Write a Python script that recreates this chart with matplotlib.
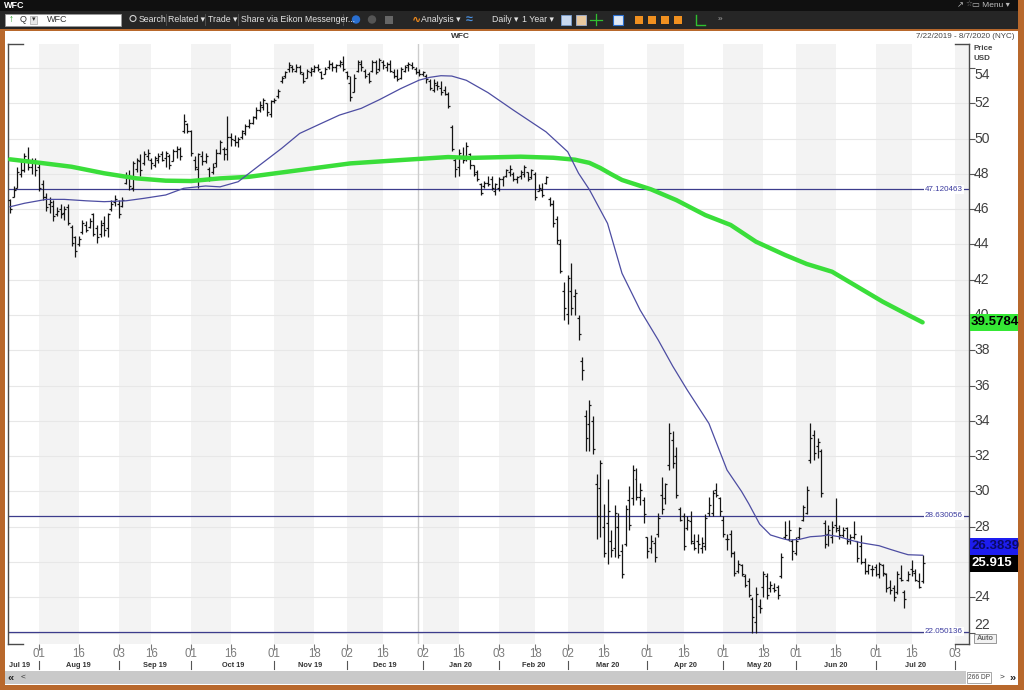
import numpy as np
import matplotlib
matplotlib.use('Agg')
import matplotlib.pyplot as plt
import matplotlib.transforms as mtransforms
from matplotlib.patches import Rectangle, Circle
from matplotlib.collections import LineCollection

plt.rcParams['font.family'] = ['Liberation Sans', 'DejaVu Sans']

# ---------------- data: WFC daily bars ----------------
first_day = '2019-07-22'
last_day = '2020-08-08'          # view runs 7/22/2019 - 8/7/2020
nyse_holidays = ['2019-09-02', '2019-11-28', '2019-12-25', '2020-01-01', '2020-01-20',
                 '2020-02-17', '2020-04-10', '2020-05-25', '2020-07-03']

opens = [
    46.5, 46.7, 47.2, 48.0, 48.2, 48.8, 48.4, 48.7, 48.4, 47.4,
    46.7, 46.3, 46.2, 45.7, 46.0, 45.8, 46.1, 45.0, 44.4, 44.0,
    44.7, 45.1, 45.0, 45.7, 44.9, 44.6, 45.2, 44.9, 46.0, 46.4,
    46.3, 46.2, 47.5, 47.8, 47.2, 48.3, 48.7, 48.6, 49.0, 48.8,
    48.5, 48.8, 49.1, 48.9, 49.0, 48.7, 49.3, 49.4, 50.4, 50.8,
    50.4, 48.8, 48.3, 49.0, 48.7, 48.3, 48.1, 48.6, 49.2, 49.4,
    49.4, 50.1, 49.9, 49.8, 50.1, 50.3, 50.7, 50.9, 51.2, 51.6,
    51.8, 52.0, 51.4, 52.1, 52.4, 53.25, 53.55, 53.95, 54.05, 53.85,
    54.05, 53.65, 53.45, 53.75, 53.85, 54.05, 53.75, 53.65, 54.05, 54.25,
    54.05, 54.15, 54.25, 53.75, 53.15, 52.65, 53.85, 54.25, 53.85, 53.65,
    53.85, 54.35, 53.95, 54.35, 54.05, 54.25, 53.75, 53.55, 53.45, 53.85,
    54.15, 54.15, 53.95, 53.75, 53.65, 53.55, 53.25, 52.75, 53.05, 52.85,
    52.75, 52.55, 50.68, 48.8, 48.4, 49.0, 49.0, 49.1, 48.5, 48.1,
    47.4, 47.3, 47.5, 47.7, 47.0, 47.2, 47.7, 47.9, 48.1, 48.0,
    47.7, 47.9, 48.0, 48.1, 47.8, 48.0, 47.0, 47.1, 47.5, 46.6,
    46.3, 45.43, 44.03, 41.37, 40.07, 41.37, 41.07, 39.8, 37.4,
    34.3, 33.8, 34.0, 30.4, 30.2, 28.0, 28.2, 27.2, 26.8, 28.0, 26.6,
    27.0, 29.5, 29.6, 30.7, 29.7, 29.5, 27.4, 26.8, 27.1, 27.6,
    29.8, 29.6, 31.5, 32.9, 32.0, 29.0, 28.6, 27.9, 28.3, 27.1,
    27.2, 26.8, 26.9, 28.8, 28.8, 30.1, 29.6, 28.4, 27.3, 27.6,
    26.5, 25.5, 25.8, 25.2, 24.9, 23.9, 22.6, 23.5, 24.6, 25.2,
    24.5, 24.5, 24.6, 25.2, 27.4, 27.3, 27.2, 26.5, 27.4, 28.4,
    28.8, 31.8, 33.2, 32.6, 32.3, 28.2, 27.6, 27.4, 28.1, 27.8,
    27.5, 27.9, 27.3, 27.4, 27.2, 26.9, 26.0, 25.5, 25.6, 25.7,
    25.3, 25.8, 25.3, 24.6, 24.5, 24.3, 25.1, 24.3, 25.0, 25.6,
    25.4, 24.9, 24.9,
]
highs = [
    46.6, 47.3, 48.4, 48.7, 49.2, 49.5, 48.9, 48.9, 48.7, 47.65,
    46.9, 46.7, 46.5, 46.1, 46.3, 46.2, 46.3, 45.1, 44.5, 44.5,
    45.4, 45.3, 45.5, 45.8, 45.1, 45.4, 45.6, 45.8, 46.5, 46.8,
    46.5, 46.7, 48.1, 48.2, 48.7, 48.9, 49.1, 49.3, 49.4, 48.9,
    49.0, 49.2, 49.3, 49.3, 49.1, 49.4, 49.6, 49.5, 51.4, 50.9,
    50.5, 49.0, 49.2, 49.3, 49.2, 48.4, 48.6, 49.4, 49.9, 49.5,
    51.3, 50.3, 50.2, 50.1, 50.5, 50.8, 51.1, 51.3, 51.8, 52.1,
    52.3, 52.0, 52.2, 52.3, 52.8, 53.55, 53.85, 54.35, 54.15, 54.25,
    54.15, 53.75, 53.95, 54.05, 54.15, 54.25, 53.85, 54.05, 54.45, 54.35,
    54.25, 54.45, 54.65, 53.85, 53.55, 53.65, 54.45, 54.45, 53.95, 53.75,
    54.45, 54.45, 54.55, 54.45, 54.35, 54.45, 53.95, 53.95, 54.05, 54.15,
    54.35, 54.35, 54.05, 53.95, 53.85, 53.65, 53.35, 53.35, 53.25, 53.25,
    52.95, 52.65, 50.78, 49.0, 49.4, 49.5, 49.8, 49.2, 48.5, 48.2,
    47.5, 47.6, 47.9, 47.9, 47.5, 47.8, 47.9, 48.3, 48.5, 48.1,
    47.9, 48.2, 48.5, 48.1, 48.3, 48.1, 47.4, 47.5, 47.9, 46.7,
    46.5, 45.63, 44.33, 41.87, 42.27, 42.97, 41.47, 40.0, 37.6,
    34.6, 35.2, 34.3, 31.0, 31.8, 29.3, 30.7, 27.8, 29.2, 28.8, 27.0,
    29.2, 30.3, 31.5, 31.3, 30.5, 29.7, 27.4, 27.5, 27.4, 28.8,
    30.8, 30.5, 33.9, 33.4, 32.5, 29.1, 28.8, 28.6, 28.9, 27.6,
    27.6, 27.4, 28.7, 29.7, 30.1, 30.5, 29.7, 28.6, 27.6, 27.8,
    26.6, 26.1, 25.9, 25.3, 25.1, 24.0, 24.6, 23.9, 25.5, 25.4,
    24.9, 24.8, 24.7, 26.5, 28.3, 28.4, 27.3, 27.4, 28.0, 29.2,
    30.3, 33.9, 33.5, 33.0, 32.4, 28.4, 28.1, 28.3, 29.6, 28.1,
    28.0, 28.0, 27.6, 28.3, 27.2, 27.5, 26.2, 25.9, 25.8, 25.9,
    26.0, 25.9, 25.4, 25.0, 24.7, 25.5, 25.8, 24.4, 25.5, 26.1,
    25.6, 25.4, 26.4,
]
lows = [
    45.8, 46.7, 47.2, 47.8, 48.1, 48.2, 48.0, 47.9, 47.0, 46.5,
    45.9, 45.8, 45.3, 45.6, 45.5, 45.4, 45.1, 43.9, 43.3, 43.9,
    44.6, 44.7, 44.9, 44.5, 44.1, 44.4, 44.5, 44.4, 45.9, 46.2,
    45.5, 46.1, 47.4, 47.1, 47.0, 48.1, 47.9, 48.5, 48.8, 48.3,
    48.4, 48.6, 48.7, 48.4, 48.3, 48.7, 48.9, 48.8, 50.3, 50.3,
    49.0, 48.2, 47.2, 48.5, 48.6, 47.6, 48.0, 48.4, 49.1, 48.8,
    48.8, 49.6, 49.6, 49.5, 50.0, 50.2, 50.6, 50.8, 51.1, 51.5,
    51.6, 51.3, 51.2, 52.0, 52.3, 53.15, 53.45, 53.75, 53.75, 53.75,
    53.65, 53.15, 53.45, 53.55, 53.75, 53.85, 53.35, 53.65, 53.95, 53.85,
    53.75, 54.05, 53.85, 53.35, 52.15, 52.65, 53.75, 53.85, 53.45, 53.15,
    53.75, 53.65, 53.85, 53.95, 53.85, 53.75, 53.45, 53.25, 53.35, 53.75,
    53.85, 53.95, 53.65, 53.55, 53.55, 53.15, 52.75, 52.65, 52.75, 52.45,
    52.45, 51.75, 49.28, 47.8, 47.9, 48.6, 48.7, 48.3, 47.9, 47.6,
    46.8, 47.2, 47.3, 47.1, 46.8, 47.0, 47.3, 47.8, 47.9, 47.6,
    47.5, 47.7, 47.8, 47.6, 47.7, 46.5, 47.0, 46.7, 47.4, 46.2,
    45.0, 44.03, 42.37, 39.7, 39.5, 39.97, 39.97, 38.6, 36.3,
    32.3, 32.3, 32.1, 27.3, 27.4, 26.3, 25.9, 26.3, 26.3, 26.2, 25.1,
    26.9, 27.8, 29.2, 29.5, 29.2, 28.2, 26.2, 26.5, 26.0, 27.4,
    28.7, 29.3, 31.2, 31.3, 29.6, 28.3, 26.7, 27.8, 27.0, 26.7,
    26.5, 26.5, 26.7, 28.6, 28.6, 29.7, 28.6, 27.4, 26.7, 26.3,
    25.2, 25.4, 25.2, 24.6, 24.0, 22.0, 22.0, 23.1, 24.0, 23.9,
    24.3, 24.3, 23.9, 25.1, 27.3, 27.2, 26.1, 26.4, 27.3, 28.3,
    28.7, 31.6, 31.8, 31.9, 29.7, 26.8, 26.9, 27.1, 27.7, 27.3,
    27.4, 27.0, 27.0, 27.3, 26.0, 25.9, 25.3, 25.3, 25.2, 25.2,
    25.1, 25.2, 24.3, 24.2, 23.8, 24.2, 24.9, 23.4, 24.9, 25.2,
    24.9, 24.5, 24.8,
]
closes = [
    46.0, 47.1, 48.1, 48.2, 49.0, 48.4, 48.7, 48.2, 47.2, 46.7,
    46.1, 46.4, 45.6, 45.9, 45.7, 46.0, 45.2, 44.1, 43.6, 44.3,
    45.2, 44.8, 45.3, 44.6, 44.4, 45.1, 44.8, 45.7, 46.3, 46.6,
    45.7, 46.5, 47.9, 47.3, 48.6, 48.8, 48.2, 49.1, 49.2, 48.6,
    48.9, 49.0, 48.8, 49.2, 48.5, 49.3, 49.4, 49.0, 51.0, 50.4,
    49.2, 48.4, 49.1, 48.7, 49.0, 47.8, 48.4, 49.2, 49.8, 49.1,
    50.1, 50.0, 49.8, 50.0, 50.4, 50.7, 50.9, 51.2, 51.6, 51.9,
    52.2, 51.5, 52.1, 52.2, 52.7, 53.45, 53.75, 54.15, 53.95, 54.05,
    53.75, 53.25, 53.85, 53.95, 54.05, 53.95, 53.45, 53.95, 54.25, 54.05,
    54.15, 54.35, 53.95, 53.55, 52.35, 53.45, 54.35, 54.05, 53.55, 53.25,
    54.35, 53.75, 54.45, 54.15, 54.25, 53.85, 53.55, 53.35, 53.95, 54.05,
    54.25, 54.05, 53.75, 53.65, 53.75, 53.35, 52.85, 53.15, 52.95, 52.65,
    52.55, 51.85, 49.38, 48.3, 49.2, 48.8, 49.6, 48.5, 48.0, 47.7,
    46.9, 47.5, 47.4, 47.2, 47.4, 47.7, 47.8, 48.2, 48.3, 47.7,
    47.8, 48.1, 48.4, 47.7, 48.2, 46.7, 47.2, 46.8, 47.8, 46.3,
    45.2, 44.23, 42.47, 40.37, 42.07, 40.37, 41.27, 38.9, 36.9,
    33.0, 34.9, 32.4, 28.6, 31.6, 26.5, 28.9, 26.7, 28.8, 26.4, 25.3,
    29.0, 28.1, 31.2, 29.7, 30.1, 28.7, 26.6, 27.2, 26.3, 28.5,
    29.0, 30.4, 33.3, 31.6, 29.8, 28.4, 26.9, 28.4, 27.2, 26.8,
    27.0, 27.1, 28.5, 29.2, 29.9, 29.8, 28.9, 27.6, 27.3, 26.5,
    25.4, 25.9, 25.3, 24.7, 24.1, 22.9, 24.2, 23.4, 25.3, 24.1,
    24.7, 24.4, 24.1, 26.3, 27.5, 27.8, 26.6, 27.2, 27.9, 29.1,
    30.1, 33.0, 32.2, 32.8, 29.9, 27.0, 27.8, 28.0, 27.9, 27.5,
    27.8, 27.2, 27.4, 27.6, 26.2, 26.0, 25.5, 25.8, 25.6, 25.3,
    25.9, 25.4, 24.5, 24.4, 24.0, 25.3, 25.0, 23.9, 25.3, 25.5,
    25.0, 24.6, 25.915,
]

# moving averages, sampled along the drawn curves (bar number, value)
ma50_bar = [0, 4, 10, 15, 21, 26, 32, 37, 43, 48, 54, 58, 63, 69, 75, 80, 86, 91, 97, 102,
            108, 113, 116, 119, 122, 126, 132, 139, 148, 154, 157, 160, 165, 169, 174, 179,
            183, 187, 193, 198, 202, 204, 207, 210, 213, 215, 218, 221, 224, 226, 229, 232,
            235, 237, 240, 243, 246, 248, 252]
ma50_val = [46.13, 46.33, 46.55, 46.55, 46.47, 46.42, 46.47, 46.61, 46.8, 47.18, 47.31, 47.26,
            47.55, 48.5, 49.44, 50.29, 50.86, 51.33, 51.71, 52.2, 52.84, 53.31, 53.47, 53.56,
            53.54, 53.3, 52.6, 51.61, 50.38, 49.25, 48.03, 47.1, 45.19, 42.36, 40.28, 38.58,
            37.1, 35.75, 33.85, 31.21, 30.0, 29.3, 28.15, 27.53, 27.34, 27.24, 27.28, 27.43,
            27.47, 27.53, 27.43, 27.24, 27.09, 27.02, 26.92, 26.72, 26.53, 26.41, 26.38]
ma200_bar = [0, 8, 17, 26, 35, 43, 50, 58, 66, 80, 94, 108, 121, 127, 141, 150, 156, 160,
             163, 166, 169, 177, 184, 192, 199, 206, 214, 220, 227, 234, 241, 248, 252]
ma200_val = [48.82, 48.63, 48.4, 48.03, 47.74, 47.61, 47.59, 47.74, 47.83, 48.21, 48.59, 48.78,
             48.95, 48.9, 48.97, 48.91, 48.8, 48.62, 48.33, 47.98, 47.65, 47.12, 46.51, 45.66,
             45.1, 44.15, 43.4, 42.89, 42.45, 41.6, 40.75, 40.0, 39.58]

level_lines = [47.120463, 28.630056, 22.050136]
price_ticks = list(range(22, 55, 2))
last_close = 25.915
ma50_last = 26.3839
ma200_last = 39.5784

assert len(opens) == len(highs) == len(lows) == len(closes)

# ---------------- trading calendar ----------------
days = np.arange(first_day, last_day, dtype='datetime64[D]')
tdays = days[np.is_busday(days, holidays=nyse_holidays)]


def bar_of(date):
    d = np.busday_offset(date, 0, roll='forward', holidays=nyse_holidays)
    return int(np.searchsorted(tdays, d))


x_lo, x_hi = -0.55, 264.9
y_lo, y_hi = 21.35, 55.34

months = np.arange('2019-08', '2020-09', dtype='datetime64[M]')
tick_bars, tick_text, month_start, bands = [], [], [], []
for m in months:
    d1 = m.astype('datetime64[D]')
    b1, b16 = bar_of(d1), bar_of(d1 + 15)
    bands.append((b1, min(b16, x_hi + 1)))
    month_start.append(b1)
    for b in (b1, b16):
        if b <= x_hi:
            tick_bars.append(b)
            tick_text.append('%02d' % tdays[b].astype(object).day)

# ---------------- figure / window chrome ----------------
W, H = 1024, 690
L, R, T, B = 8, 969.3, 44.3, 644.0

fig = plt.figure(figsize=(W / 100, H / 100), dpi=100)
bg = fig.add_axes([0, 0, 1, 1])
bg.set_xlim(0, W)
bg.set_ylim(H, 0)
bg.axis('off')

border = '#b8682c'
bg.add_patch(Rectangle((0, 0), W, H, fc='white', ec='none'))
bg.add_patch(Rectangle((0, 0), W, 11, fc='#101010', ec='none'))
bg.add_patch(Rectangle((0, 11), W, 17.5, fc='#262626', ec='none'))
bg.add_patch(Rectangle((0, 28.5), W, 2, fc=border, ec='none'))
bg.add_patch(Rectangle((0, 28.5), 4.5, H, fc=border, ec='none'))
bg.add_patch(Rectangle((W - 6, 0), 6, H, fc=border, ec='none'))
bg.add_patch(Rectangle((0, H - 5), W, 5, fc=border, ec='none'))

bg.text(4, 5.5, 'WFC', color='white', fontsize=6.5, fontweight='bold', va='center')
bg.text(957, 5.5, '\u2197', color='#bbbbbb', fontsize=6, va='center')
bg.text(965, 5.5, '\u2606', color='#777777', fontsize=5.5, va='center')
bg.text(972, 5.5, '\u25ad Menu \u25be', color='#bbbbbb', fontsize=6, va='center')

# toolbar
bg.add_patch(Rectangle((5, 13.5), 116, 12, fc='white', ec='#999999', lw=0.6))
bg.text(9, 19.5, '\u2191', color='#1a9a1a', fontsize=7, fontweight='bold', va='center')
bg.text(20, 19.5, 'Q', color='#333333', fontsize=6.5, va='center')
bg.add_patch(Rectangle((30, 15.5), 7, 8, fc='#e8e8e8', ec='#aaaaaa', lw=0.5))
bg.text(33.5, 19.5, '\u25be', color='#333333', fontsize=5, va='center', ha='center')
bg.text(47, 19.5, 'WFC', color='#333333', fontsize=6.5, va='center')

tool_items = [(139, 'Search'), (168, 'Related \u25be'), (208, 'Trade \u25be'),
              (241, 'Share via Eikon Messenger...'), (421, 'Analysis \u25be'),
              (492, 'Daily \u25be'), (522, '1 Year \u25be')]
for tx, label in tool_items:
    bg.text(tx, 19.5, label, color='#e4e4e4', fontsize=6.3, va='center')
for sx in (165.5, 205, 238, 343):
    bg.plot([sx, sx], [14, 25], color='#555555', lw=0.6)
bg.add_patch(Circle((133, 18.5), 3, fc='none', ec='#d0d0d0', lw=0.8))
bg.add_patch(Circle((356, 19.5), 4.2, fc='#2a6fd0', ec='none'))
bg.add_patch(Circle((372, 19.5), 4.2, fc='#555555', ec='none'))
bg.add_patch(Rectangle((385, 15.5), 8, 8, fc='#666666', ec='none'))
bg.text(412, 19.5, '\u223f', color='#f08a1c', fontsize=8, va='center', fontweight='bold')
bg.text(466, 19.5, '\u2248', color='#4a90e0', fontsize=9, va='center', fontweight='bold')
bg.add_patch(Rectangle((561, 14.5), 10, 10, fc='#c9d9ef', ec='#7a9fd0', lw=0.6))
bg.add_patch(Rectangle((576, 14.5), 10, 10, fc='#e9c9a0', ec='#9fb0d0', lw=0.6))
bg.plot([596, 596], [14, 25], color='#30c030', lw=0.9)
bg.plot([590, 602], [19.5, 19.5], color='#30c030', lw=0.9)
bg.add_patch(Rectangle((613, 14.5), 10, 10, fc='#dfe8f5', ec='#2a6fd0', lw=0.8))
for ix in (639, 652, 665, 678):
    bg.add_patch(Rectangle((ix - 4, 15.5), 8, 8, fc='#f09020', ec='none'))
bg.plot([696, 696, 705], [14.5, 24.5, 24.5], color='#30c030', lw=1.0)
bg.text(718, 19.5, '\u00bb', color='#aaaaaa', fontsize=6, va='center')

bg.text(460, 37, 'WFC', color='#333333', fontsize=6, fontweight='bold', ha='center', va='center')
bg.text(1015, 37, '7/22/2019 - 8/7/2020 (NYC)', color='#444444', fontsize=5.8,
        ha='right', va='center')

# right panel header + Auto button
bg.text(974, 49, 'Price', color='#444444', fontsize=5.8, fontweight='bold', va='center')
bg.text(974, 59, 'USD', color='#444444', fontsize=5.8, fontweight='bold', va='center')
bg.add_patch(Rectangle((974, 633.5), 22, 9.5, fc='#f2f2f2', ec='#888888', lw=0.6))
bg.text(985, 638.3, 'Auto', color='#666666', fontsize=5.3, fontweight='bold',
        ha='center', va='center')

# scrollbar
bg.add_patch(Rectangle((4.5, 670.5), 961, 13.5, fc='#c9c9c9', ec='none'))
bg.text(8, 677.5, '\u00ab', color='#222222', fontsize=8, fontweight='bold', va='center')
bg.text(21, 677.5, '<', color='#333333', fontsize=6, va='center')
bg.add_patch(Rectangle((967, 671.5), 24, 11.5, fc='white', ec='#999999', lw=0.6))
bg.text(979, 677.5, '266 DP', color='#444444', fontsize=4.8, ha='center', va='center')
bg.text(1000, 677.5, '>', color='#333333', fontsize=6, va='center')
bg.text(1009, 677.5, '\u00bb', color='#222222', fontsize=8, fontweight='bold', va='center')

# ---------------- price chart ----------------
ax = fig.add_axes([L / W, 1 - B / H, (R - L) / W, (B - T) / H])
ax.set_facecolor('white')
ax.set_xlim(x_lo, x_hi)
ax.set_ylim(y_lo, y_hi)
ax.set_zorder(2)
xa_yd = mtransforms.blended_transform_factory(ax.transAxes, ax.transData)
xd_ya = mtransforms.blended_transform_factory(ax.transData, ax.transAxes)


def ax_x(px):
    return (px - L) / (R - L)


def ax_y(py):
    return (B - py) / (B - T)


for s in ('top', 'bottom'):
    ax.spines[s].set_visible(False)
for s in ('left', 'right'):
    ax.spines[s].set_color('#4a4a4a')
    ax.spines[s].set_linewidth(1.0)
for xs in ((0, ax_x(L + 15)), (ax_x(R - 14), 1)):
    for ys in (0, 1):
        ax.plot(xs, (ys, ys), transform=ax.transAxes, color='#4a4a4a', lw=1.0, clip_on=False)

# half-month shading and faint price grid
for b1, b16 in bands:
    ax.axvspan(b1, b16, color='#f3f3f3', lw=0, zorder=0)
for p in price_ticks:
    ax.axhline(p, color='#e7e7e7', lw=0.8, zorder=0.5)
year_bar = bar_of(np.datetime64('2020-01-01'))
ax.axvline(year_bar - 1.2, color='#cdcdcd', lw=1.0, zorder=0.6)

# horizontal level lines
for lv in level_lines:
    ax.axhline(lv, color='#3c3c8c', lw=0.9, zorder=2)
    ax.text(ax_x(963), lv, '%.6f' % lv, transform=xa_yd, ha='right', va='center',
            fontsize=5.8, color='#3a3a9e', zorder=2.5,
            bbox=dict(fc='white', ec='none', pad=0.6))

# OHLC bars
segs = []
for i in range(len(opens)):
    segs.append([(i, lows[i]), (i, highs[i])])
    segs.append([(i - 0.55, opens[i]), (i, opens[i])])
    segs.append([(i, closes[i]), (i + 0.55, closes[i])])
ax.add_collection(LineCollection(segs, colors='#151515', linewidths=0.9, zorder=3))

# moving averages
ax.plot(ma200_bar, ma200_val, color='#3ade3a', lw=3.2, zorder=4, solid_capstyle='round',
        solid_joinstyle='round')
ax.plot(ma50_bar, ma50_val, color='#4d4da2', lw=0.9, zorder=4)

# axes ticks
ax.set_xticks(tick_bars)
ax.tick_params(axis='x', length=4, width=0.8, color='#777777', labelbottom=False)
ax.yaxis.set_ticks_position('right')
ax.set_yticks(price_ticks)
ax.tick_params(axis='y', length=4, width=0.8, color='#555555', labelright=False, labelleft=False)

for b, t in zip(tick_bars, tick_text):
    ax.text(b, ax_y(654), t, transform=xd_ya, ha='center', va='center', fontsize=8.3,
            color='#7b7b7b', clip_on=False)

bounds = month_start + [x_hi + 40]
ax.text(x_lo + 0.3, ax_y(665.5), 'Jul 19', transform=xd_ya, ha='left', va='center',
        fontsize=5.3, fontweight='bold', color='#333333', clip_on=False)
for k, m in enumerate(months):
    s = month_start[k]
    if s <= x_hi:
        ax.plot([s, s], [ax_y(661), ax_y(669)], transform=xd_ya, color='#555555', lw=0.8,
                clip_on=False)
    mid = 0.5 * (bounds[k] + bounds[k + 1])
    if mid <= x_hi:
        ax.text(mid, ax_y(665.5), m.astype(object).strftime('%b %y'), transform=xd_ya,
                ha='center', va='center', fontsize=5.3, fontweight='bold', color='#333333',
                clip_on=False)

# last-value boxes
box_h = (y_hi - y_lo) * 17 / (B - T)
box_w = ax_x(1018) - ax_x(970)
value_boxes = [
    (ma200_last, '%.4f' % ma200_last, '#35e835', '#000000'),
    (last_close, '%.3f' % last_close, '#000000', '#ffffff'),
    (max(ma50_last, last_close + box_h), '%.4f' % ma50_last, '#1d1df0', '#0a0a66'),
]
for yc, txt, fc, tc in value_boxes:
    ax.add_patch(Rectangle((ax_x(970), yc - box_h / 2), box_w, box_h, transform=xa_yd,
                           fc=fc, ec='none', clip_on=False, zorder=6))
    ax.text(ax_x(971), yc, txt, transform=xa_yd, ha='left', va='center', fontsize=9.5,
            fontweight='bold', color=tc, clip_on=False, zorder=7)

# right-hand price labels (those sitting fully under a value box are hidden, as on screen)
for p in price_ticks:
    if any(abs(p - yc) < box_h * 0.3 for yc, _, _, _ in value_boxes):
        continue
    nudge = -0.4 if p == price_ticks[-1] else (0.4 if p == price_ticks[0] else 0)
    ax.text(ax_x(974), p + nudge, str(p), transform=xa_yd, ha='left', va='center',
            fontsize=10, color='#404040', clip_on=False, zorder=5)

fig.savefig('out.png', dpi=100, facecolor='white')
